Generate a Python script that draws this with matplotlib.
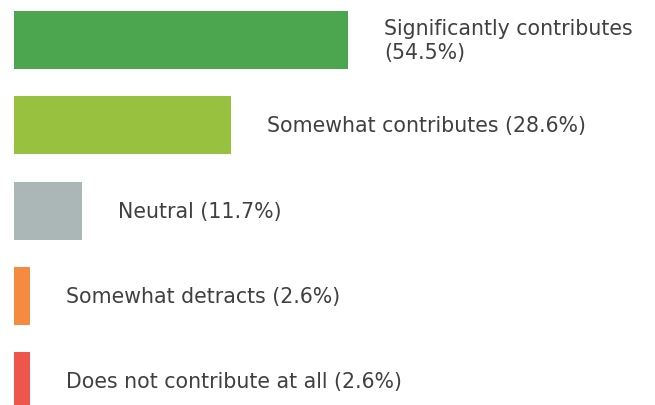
import matplotlib
matplotlib.use("Agg")
import matplotlib.pyplot as plt

# answers, top to bottom
labels = ["Significantly contributes\n(54.5%)",
          "Somewhat contributes (28.6%)",
          "Neutral (11.7%)",
          "Somewhat detracts (2.6%)",
          "Does not contribute at all (2.6%)"]
# drawn bar lengths (same units as the percentages)
bar_lengths = [54.5, 35.4, 11.1, 2.6, 2.6]
colors = ["#4ca64f", "#98c13f", "#abb7b7", "#f68b3f", "#ef564b"]

fig = plt.figure(figsize=(6.55, 4.06), dpi=100)
ax = fig.add_axes([0, 0, 1, 1])

ypos = list(range(len(bar_lengths)))
ax.barh(ypos, bar_lengths, height=0.68, color=colors)

for y, w, lab in zip(ypos, bar_lengths, labels):
    ax.annotate(lab, xy=(w, y), xytext=(26, 0), textcoords="offset points",
                ha="left", va="center", fontsize=14.8, color="#404040",
                family="DejaVu Sans", linespacing=1.3)

ax.set_xlim(-2.28, 104.6)
ax.set_ylim(4.28, -0.48)
ax.axis("off")

fig.savefig("out.png", dpi=100)
